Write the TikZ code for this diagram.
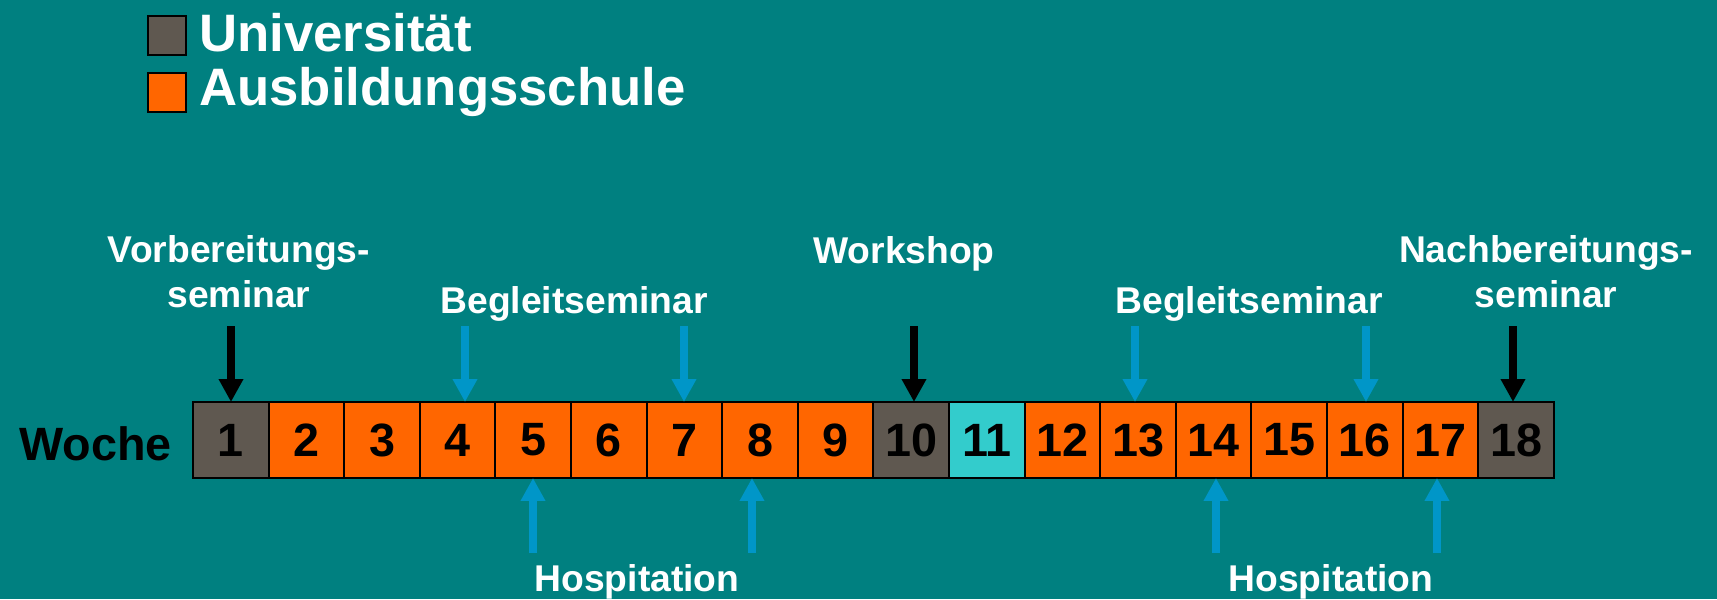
\documentclass[tikz,border=0pt]{standalone}
\usepackage{fontspec}
\setmainfont{Liberation Sans}
\usepackage{tikz}
\usepackage{xcolor}
\usetikzlibrary{arrows.meta}
\definecolor{bgTeal}{RGB}{0,128,128}
\definecolor{uniGrey}{RGB}{95,88,80}
\definecolor{schoolOrange}{RGB}{255,102,0}
\definecolor{freeCyan}{RGB}{51,204,204}
\definecolor{eventBlue}{RGB}{0,150,200}
\tikzset{%
  tipW/.tip={Triangle[width=0.466cm,length=0.46cm]},
  week/.style={draw=black, line width=1.2pt, minimum width=1.514cm, minimum height=1.52cm,
    inner sep=0pt, outer sep=0pt, text=black, font=\fontsize{26.6pt}{31pt}\bfseries},
  legbox/.style={draw=black, line width=1.2pt, minimum width=0.76cm, minimum height=0.78cm, inner sep=0pt},
  legtext/.style={text=white, inner sep=0pt, font=\fontsize{30pt}{36pt}\bfseries},
  evtext/.style={text=white, inner sep=0pt, align=center, font=\fontsize{21.2pt}{25.2pt}\bfseries},
  evarrow/.style={line width=0.16cm, -tipW}
}

\begin{document}
\begin{tikzpicture}[x=0.02cm,y=0.02cm]

\fill[bgTeal] (0,0) rectangle (1717,599);
\useasboundingbox (0,0) rectangle (1717,599);

% legend
\node[legbox, fill=uniGrey] (kuni) at (167,563.5) {};
\node[legbox, fill=schoolOrange] (kschool) at (167,506.5) {};
\node[legtext, anchor=base west] (tuni) at (199,547) {Universität};
\node[legtext, anchor=base west] (tschool) at (199,493) {Ausbildungsschule};

% weeks
\node[text=black, inner sep=0pt, anchor=base east, font=\fontsize{26.6pt}{31pt}\bfseries] (woche) at (172,139) {Woche};
\node[week, fill=uniGrey] (w1) at (230.8,159) {1};
\node[week, fill=schoolOrange] (w2) at (306.4,159) {2};
\node[week, fill=schoolOrange] (w3) at (382.0,159) {3};
\node[week, fill=schoolOrange] (w4) at (457.6,159) {4};
\node[week, fill=schoolOrange] (w5) at (533.2,159) {5};
\node[week, fill=schoolOrange] (w6) at (608.8,159) {6};
\node[week, fill=schoolOrange] (w7) at (684.4,159) {7};
\node[week, fill=schoolOrange] (w8) at (760.0,159) {8};
\node[week, fill=schoolOrange] (w9) at (835.6,159) {9};
\node[week, fill=uniGrey] (w10) at (911.2,159) {10};
\node[week, fill=freeCyan] (w11) at (986.8,159) {11};
\node[week, fill=schoolOrange] (w12) at (1062.4,159) {12};
\node[week, fill=schoolOrange] (w13) at (1138.0,159) {13};
\node[week, fill=schoolOrange] (w14) at (1213.6,159) {14};
\node[week, fill=schoolOrange] (w15) at (1289.2,159) {15};
\node[week, fill=schoolOrange] (w16) at (1364.8,159) {16};
\node[week, fill=schoolOrange] (w17) at (1440.4,159) {17};
\node[week, fill=uniGrey] (w18) at (1516.0,159) {18};

% events above
\node[evtext, anchor=base] (vorb) at (239,292) {Vorbereitungs-\\seminar};
\node[evtext, anchor=base] (beg1) at (574,286) {Begleitseminar};
\node[evtext, anchor=base] (work) at (904,336) {Workshop};
\node[evtext, anchor=base] (beg2) at (1249,286) {Begleitseminar};
\node[evtext, anchor=base] (nach) at (1546,292) {Nachbereitungs-\\seminar};

% events below
\node[evtext, anchor=base] (hosp1) at (637,8) {Hospitation};
\node[evtext, anchor=base] (hosp2) at (1331,8) {Hospitation};

% arrow ends
\coordinate (d1) at (231,273);
\coordinate (d4) at (465,273);
\coordinate (d7) at (684,273);
\coordinate (d10) at (914,273);
\coordinate (d13) at (1135,273);
\coordinate (d16) at (1366,273);
\coordinate (d18) at (1513,273);
\coordinate (u5) at (533,46);
\coordinate (u8) at (752,46);
\coordinate (u14) at (1216,46);
\coordinate (u17) at (1437,46);

\draw[evarrow, black] (d1) -- (d1 |- w1.north);
\draw[evarrow, eventBlue] (d4) -- (d4 |- w4.north);
\draw[evarrow, eventBlue] (d7) -- (d7 |- w7.north);
\draw[evarrow, black] (d10) -- (d10 |- w10.north);
\draw[evarrow, eventBlue] (d13) -- (d13 |- w13.north);
\draw[evarrow, eventBlue] (d16) -- (d16 |- w16.north);
\draw[evarrow, black] (d18) -- (d18 |- w18.north);
\draw[evarrow, eventBlue] (u5) -- (u5 |- w5.south);
\draw[evarrow, eventBlue] (u8) -- (u8 |- w8.south);
\draw[evarrow, eventBlue] (u14) -- (u14 |- w14.south);
\draw[evarrow, eventBlue] (u17) -- (u17 |- w17.south);
\end{tikzpicture}
\end{document}
